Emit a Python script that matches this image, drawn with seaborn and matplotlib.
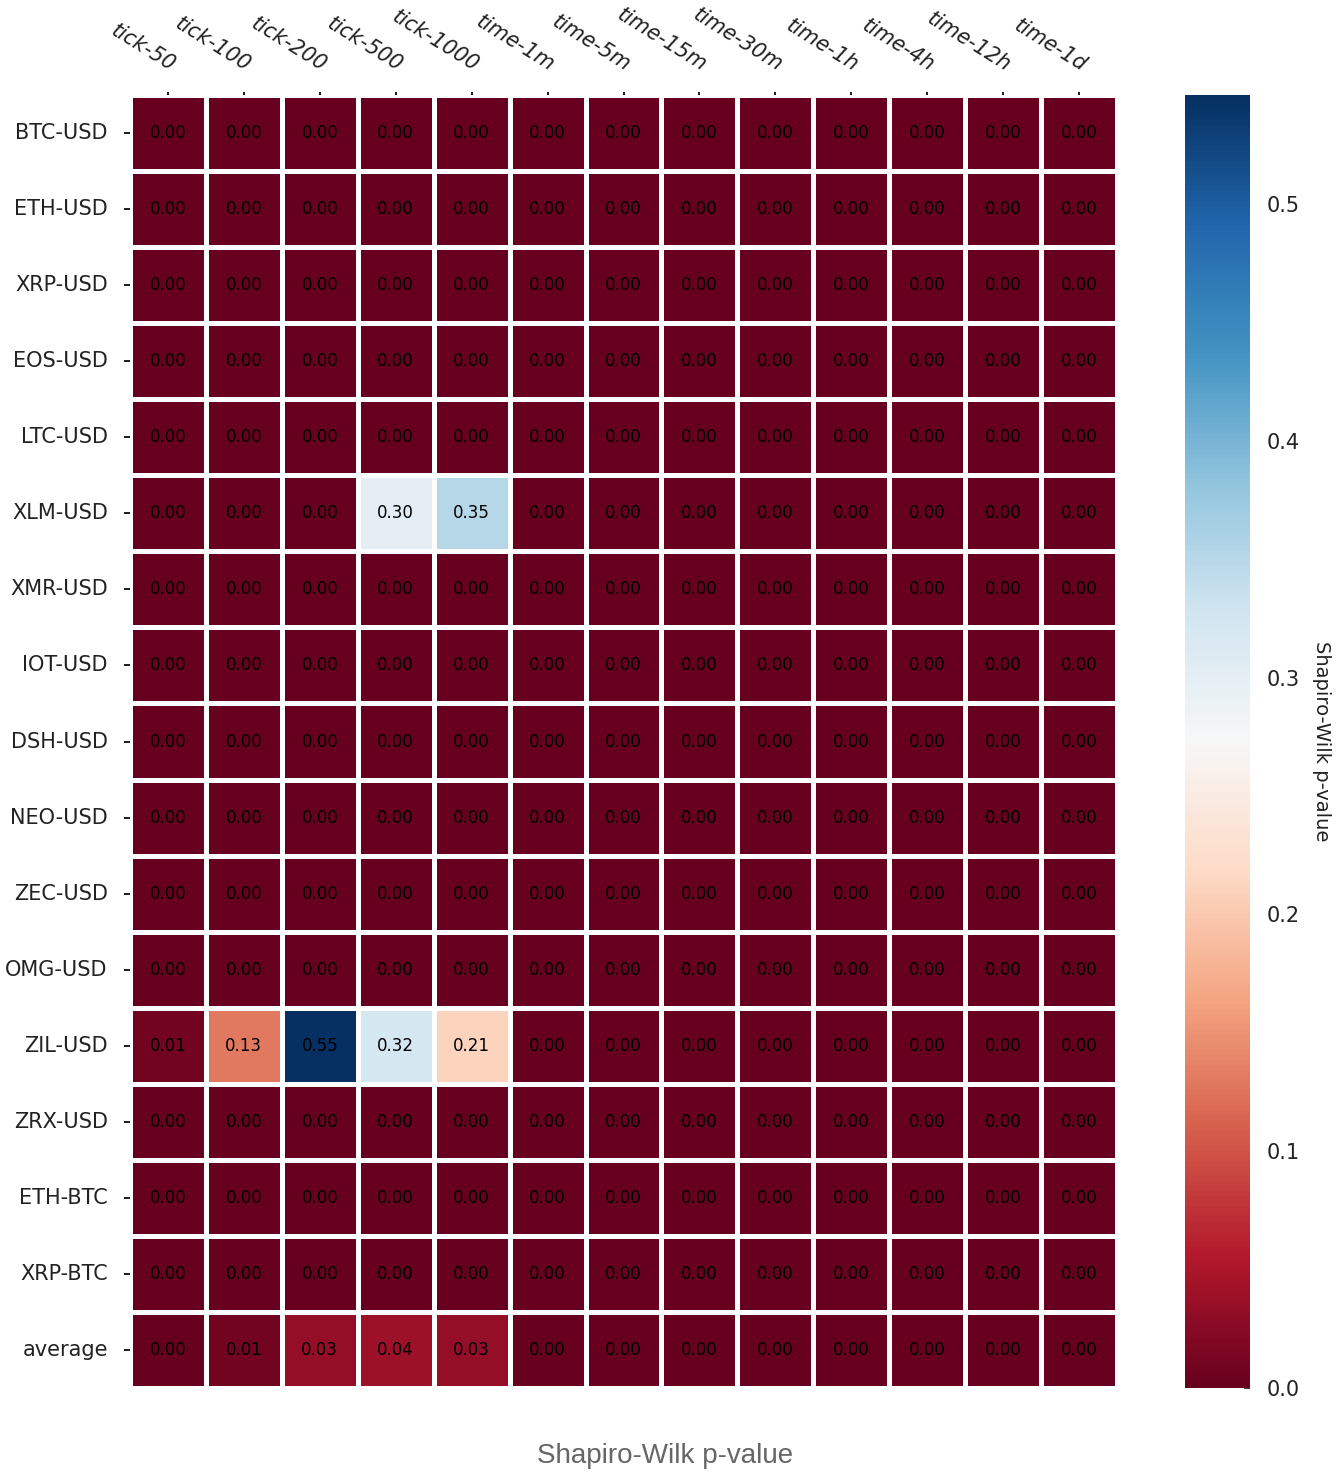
import numpy as np
import pandas as pd
import matplotlib
matplotlib.use("Agg")
import matplotlib.pyplot as plt
import seaborn as sns

rows = ["BTC-USD", "ETH-USD", "XRP-USD", "EOS-USD", "LTC-USD", "XLM-USD", "XMR-USD",
        "IOT-USD", "DSH-USD", "NEO-USD", "ZEC-USD", "OMG-USD", "ZIL-USD", "ZRX-USD",
        "ETH-BTC", "XRP-BTC", "average"]
cols = ["tick-50", "tick-100", "tick-200", "tick-500", "tick-1000", "time-1m", "time-5m",
        "time-15m", "time-30m", "time-1h", "time-4h", "time-12h", "time-1d"]

# non-zero rows (all other rows are 0.00 everywhere)
xlm_usd = [0.00, 0.00, 0.00, 0.30, 0.35, 0.00, 0.00, 0.00, 0.00, 0.00, 0.00, 0.00, 0.00]
zil_usd = [0.01, 0.13, 0.546, 0.32, 0.21, 0.00, 0.00, 0.00, 0.00, 0.00, 0.00, 0.00, 0.00]
average = [0.001, 0.009, 0.034, 0.039, 0.034, 0.00, 0.00, 0.00, 0.00, 0.00, 0.00, 0.00, 0.00]
zero_row = [0.00] * 13

values = {r: zero_row for r in rows}
values["XLM-USD"] = xlm_usd
values["ZIL-USD"] = zil_usd
values["average"] = average
df = pd.DataFrame([values[r] for r in rows], index=rows, columns=cols)

sns.set_theme(style="white")
plt.rcParams["font.family"] = ["DejaVu Sans"]

fig = plt.figure(figsize=(13.4, 14.72), dpi=100)
ax = fig.add_axes([0.097, 0.057, 0.7366, 0.8785])
cax = fig.add_axes([0.884, 0.057, 0.049, 0.8785])

sns.heatmap(df, ax=ax, cbar_ax=cax, cmap="RdBu", vmin=0.0, vmax=float(df.values.max()),
            annot=True, fmt=".2f", annot_kws={"color": "black", "fontsize": 12},
            linewidths=3.5, linecolor="white",
            cbar_kws={"label": "Shapiro-Wilk p-value", "ticks": [0.0, 0.1, 0.2, 0.3, 0.4, 0.5],
                      "format": "%.1f"})

ax.xaxis.tick_top()
ax.tick_params(axis="x", top=True, bottom=False, length=4, direction="inout", color="black",
               pad=12)
ax.tick_params(axis="y", left=True, length=4, color="black", pad=12)
ax.set_xticklabels(cols, rotation=-32, ha="right", va="bottom", rotation_mode="anchor",
                   fontsize=15, style="italic", color="#222222")
ax.set_yticklabels(rows, rotation=0, fontsize=15, color="#222222")
ax.set_xlabel("")
ax.set_ylabel("")

cax.tick_params(labelsize=15, length=4, right=True, direction="in", colors="#222222", pad=12)
cax.yaxis.label.set_size(14)
cax.yaxis.label.set_rotation(270)
cax.yaxis.labelpad = 22
cax.yaxis.label.set_color("#222222")

fig.text(0.496, 0.011, "Shapiro-Wilk p-value", ha="center", va="center",
         fontsize=20, color="#666666", family=["Liberation Sans", "DejaVu Sans"])

fig.savefig("out.png", dpi=100)
